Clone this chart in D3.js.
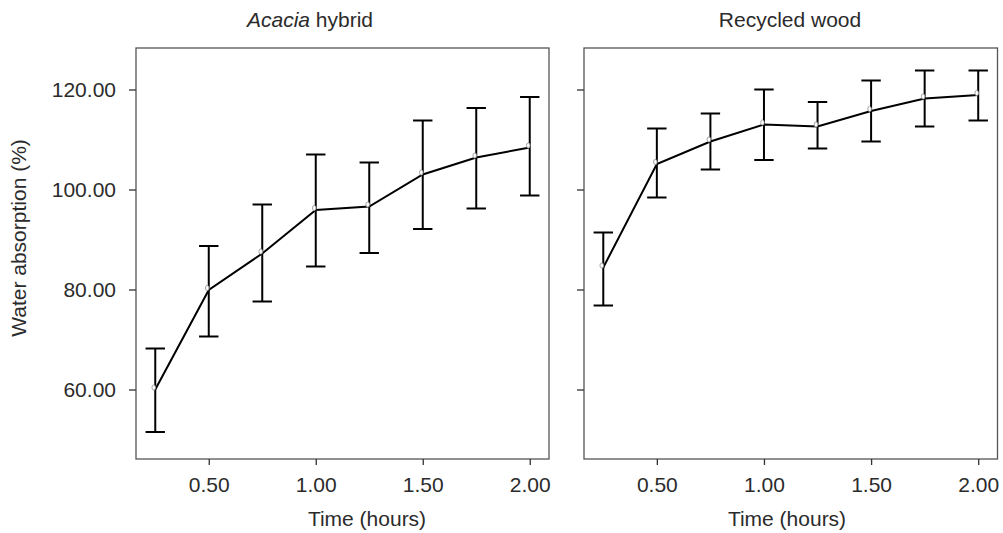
<!DOCTYPE html>
<html><head><meta charset="utf-8">
<script src="https://cdn.jsdelivr.net/npm/d3@7"></script>
<style>
body{margin:0;background:#fff;}
text{font-family:"Liberation Sans",Arial,sans-serif;fill:#2b2b2b;}
</style></head>
<body><svg id="chart" width="1003" height="533"></svg>
<script>
const times = [0.25,0.5,0.75,1.0,1.25,1.5,1.75,2.0];
const acaciaMean = [60.0,79.9,87.2,95.9,96.6,103.0,106.4,108.4];
const acaciaHigh = [68.2,88.7,97.0,107.0,105.4,113.8,116.3,118.5];
const acaciaLow  = [51.5,70.6,77.6,84.6,87.3,92.1,96.2,98.8];
const recycledMean = [84.4,105.1,109.6,113.0,112.6,115.7,118.2,118.9];
const recycledHigh = [91.4,112.2,115.2,120.0,117.5,121.8,123.8,123.8];
const recycledLow  = [76.8,98.4,104.0,105.9,108.2,109.6,112.6,113.8];
const xTicks = [0.5,1.0,1.5,2.0];
const yTicks = [60,80,100,120];

const svg = d3.select("#chart");
const yScale = d3.scaleLinear().domain([46.1,128.3]).range([459,48]);

const panels = [
  {x0:136,x1:549,mean:acaciaMean,hi:acaciaHigh,lo:acaciaLow,titleX:310,xlabX:367,italic:"Acacia",rest:" hybrid",yLabels:true},
  {x0:584,x1:997.5,mean:recycledMean,hi:recycledHigh,lo:recycledLow,titleX:790,xlabX:787,italic:null,rest:"Recycled wood",yLabels:false}
];

panels.forEach(p=>{
  const x = d3.scaleLinear().domain([0.16,2.09]).range([p.x0,p.x1]);
  const g = svg.append("g");
  // frame
  g.append("rect").attr("x",p.x0).attr("y",48).attr("width",p.x1-p.x0).attr("height",411)
    .attr("fill","none").attr("stroke","#555").attr("stroke-width",1.3);
  // x axis
  const xa = g.append("g").attr("transform","translate(0,459)")
    .call(d3.axisBottom(x).tickValues(xTicks).tickFormat(d3.format(".2f")).tickSize(6).tickPadding(12));
  xa.select(".domain").remove();
  xa.selectAll("line").attr("stroke","#333").attr("stroke-width",1.3);
  xa.selectAll("text").attr("font-size",21).attr("fill","#2b2b2b").attr("font-family","Liberation Sans, Arial, sans-serif");
  // y axis
  const ya = g.append("g").attr("transform",`translate(${p.x0},0)`)
    .call(d3.axisLeft(yScale).tickValues(yTicks).tickFormat(p.yLabels?d3.format(".2f"):"").tickSize(7).tickPadding(13));
  ya.select(".domain").remove();
  ya.selectAll("line").attr("stroke","#333").attr("stroke-width",1.3);
  ya.selectAll("text").attr("font-size",21).attr("fill","#2b2b2b").attr("font-family","Liberation Sans, Arial, sans-serif");
  // error bars
  const eb = g.append("g").attr("stroke","#000").attr("stroke-width",2).attr("fill","none");
  times.forEach((t,i)=>{
    const cx = x(t);
    eb.append("line").attr("x1",cx).attr("x2",cx).attr("y1",yScale(p.hi[i])).attr("y2",yScale(p.lo[i]));
    eb.append("line").attr("x1",cx-9.7).attr("x2",cx+9.7).attr("y1",yScale(p.hi[i])).attr("y2",yScale(p.hi[i]));
    eb.append("line").attr("x1",cx-9.7).attr("x2",cx+9.7).attr("y1",yScale(p.lo[i])).attr("y2",yScale(p.lo[i]));
  });
  // line
  const line = d3.line().x((d,i)=>x(times[i])).y(d=>yScale(d));
  g.append("path").datum(p.mean).attr("d",line).attr("fill","none").attr("stroke","#000").attr("stroke-width",2);
  // markers
  g.selectAll("ellipse.m").data(p.mean).join("ellipse").attr("class","m")
    .attr("cx",(d,i)=>x(times[i])-1.5).attr("cy",d=>yScale(d)-2).attr("rx",1.8).attr("ry",2.6)
    .attr("fill","#fff").attr("stroke","#999").attr("stroke-width",0.9);
  // title
  const tt = svg.append("text").attr("x",p.titleX).attr("y",27).attr("text-anchor","middle").attr("font-size",21);
  if(p.italic){ tt.append("tspan").attr("font-style","italic").text(p.italic); }
  tt.append("tspan").text(p.rest);
  // x label
  svg.append("text").attr("x",p.xlabX).attr("y",526).attr("text-anchor","middle").attr("font-size",21).text("Time (hours)");
});
svg.append("text").attr("transform","translate(26,238) rotate(-90)").attr("text-anchor","middle")
  .attr("font-size",21).text("Water absorption (%)");
</script></body></html>
